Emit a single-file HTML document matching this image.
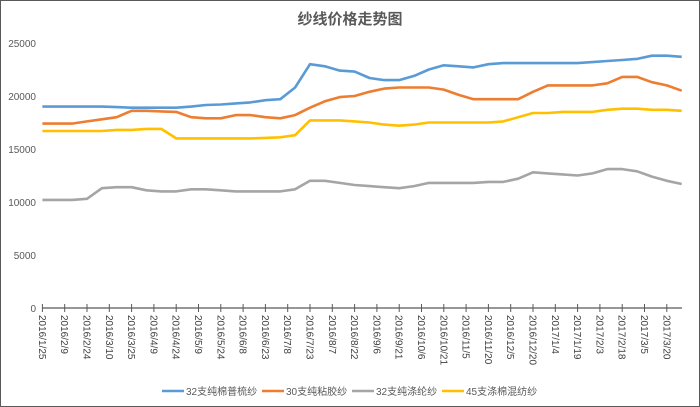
<!DOCTYPE html>
<html><head><meta charset="utf-8"><style>
html,body{margin:0;padding:0;background:#fff;}
svg{display:block;font-family:"Liberation Sans","Noto Sans CJK SC",sans-serif;}
</style></head><body>
<svg id="chart" width="700" height="407" viewBox="0 0 700 407">
<rect x="0.5" y="0.5" width="699" height="406" fill="#fff" stroke="#595959"/>
<text x="350" y="24" text-anchor="middle" font-size="15" font-weight="bold" fill="#595959">纱线价格走势图</text>
<g id="yaxis"></g>
<g id="xaxis"></g>
<g id="series"></g>
<g id="legend"></g>
</svg>
<script>
const days = [0,10,20,30,40,50,60,70,80,90,100,110,120,130,140,150,160,170,180,190,200,210,220,230,240,250,260,270,280,290,300,310,320,330,340,350,360,370,380,390,400,410,420,430];
const cottonYarn = [19000,19000,19000,19000,19000,18950,18900,18900,18900,18900,19000,19150,19200,19300,19400,19600,19700,20800,23000,22800,22400,22300,21700,21500,21500,21900,22500,22900,22800,22700,23000,23100,23100,23100,23100,23100,23100,23200,23300,23400,23500,23800,23800,23700];
const viscoseYarn = [17400,17400,17400,17600,17800,18000,18600,18600,18550,18500,18000,17900,17900,18200,18200,18000,17900,18200,18900,19500,19900,20000,20400,20700,20800,20800,20800,20600,20100,19700,19700,19700,19700,20400,21000,21000,21000,21000,21200,21800,21800,21300,21000,20500];
const polyesterYarn = [10200,10200,10200,10300,11300,11400,11400,11100,11000,11000,11200,11200,11100,11000,11000,11000,11000,11200,12000,12000,11800,11600,11500,11400,11300,11500,11800,11800,11800,11800,11900,11900,12200,12800,12700,12600,12500,12700,13100,13100,12900,12400,12000,11700];
const blendYarn = [16700,16700,16700,16700,16700,16800,16800,16900,16900,16000,16000,16000,16000,16000,16000,16050,16100,16300,17700,17700,17700,17600,17500,17300,17200,17300,17500,17500,17500,17500,17500,17600,18000,18400,18400,18500,18500,18500,18700,18800,18800,18700,18700,18600];
const yTicks = [0,5000,10000,15000,20000,25000];
const xTickLabels = ["2016/1/25","2016/2/9","2016/2/24","2016/3/10","2016/3/25","2016/4/9","2016/4/24","2016/5/9","2016/5/24","2016/6/8","2016/6/23","2016/7/8","2016/7/23","2016/8/7","2016/8/22","2016/9/6","2016/9/21","2016/10/6","2016/10/21","2016/11/5","2016/11/20","2016/12/5","2016/12/20","2017/1/4","2017/1/19","2017/2/3","2017/2/18","2017/3/5","2017/3/20"];
const seriesNames = ["32支纯棉普梳纱","30支纯粘胶纱","32支纯涤纶纱","45支涤棉混纺纱"];

const NS="http://www.w3.org/2000/svg";
const x0=42.4, pxPerDay=22.3/15, yBase=308, pxPerUnit=53/5000;
const xScale=d=>x0+d*pxPerDay;
const yScale=v=>yBase-v*pxPerUnit;
function mk(tag,attrs,parent){const e=document.createElementNS(NS,tag);for(const k in attrs)e.setAttribute(k,attrs[k]);parent.appendChild(e);return e;}

const yaxis=document.getElementById('yaxis');
yTicks.forEach(v=>{
  const t=mk('text',{x:36,y:yScale(v)+4,'text-anchor':'end','font-size':10,fill:'#595959'},yaxis);
  
  
  t.textContent=v;
});
const xaxis=document.getElementById('xaxis');
const axisLine=mk('line',{x1:x0,y1:yBase,x2:682,y2:yBase,stroke:'#595959','stroke-width':1.3},xaxis);


xTickLabels.forEach((lab,i)=>{
  const x=xScale(i*15);
  const tk=mk('line',{x1:x,y1:yBase-4,x2:x,y2:yBase+4,stroke:'#595959','stroke-width':1},xaxis);
  
  
  const t=mk('text',{x:0,y:0,'font-size':10,fill:'#404040',transform:`translate(${x-3.5},${yBase+7}) rotate(90)`},xaxis);
  
  
  t.textContent=lab;
});
const colors=['#5B9BD5','#ED7D31','#A5A5A5','#FFC000'];
const data=[cottonYarn,viscoseYarn,polyesterYarn,blendYarn];
const sg=document.getElementById('series');
[2,3,1,0].forEach(si=>{
  const pts=data[si].map((v,i)=>xScale(days[i]).toFixed(1)+','+yScale(v).toFixed(1)).join(' ');
  const p=mk('polyline',{points:pts,fill:'none',stroke:colors[si],'stroke-width':2.6,'stroke-linejoin':'round'},sg);
  
  
});
const lg=document.getElementById('legend');
const lx=[162,262,352,442];
seriesNames.forEach((n,i)=>{
  const g=mk('g',{},lg);
  
  
  mk('line',{x1:lx[i],y1:391,x2:lx[i]+22,y2:391,stroke:colors[i],'stroke-width':2.6},g);
  const t=mk('text',{x:lx[i]+24,y:395,'font-size':10,fill:'#595959'},g);
  t.textContent=n;
});
</script>
</body></html>
